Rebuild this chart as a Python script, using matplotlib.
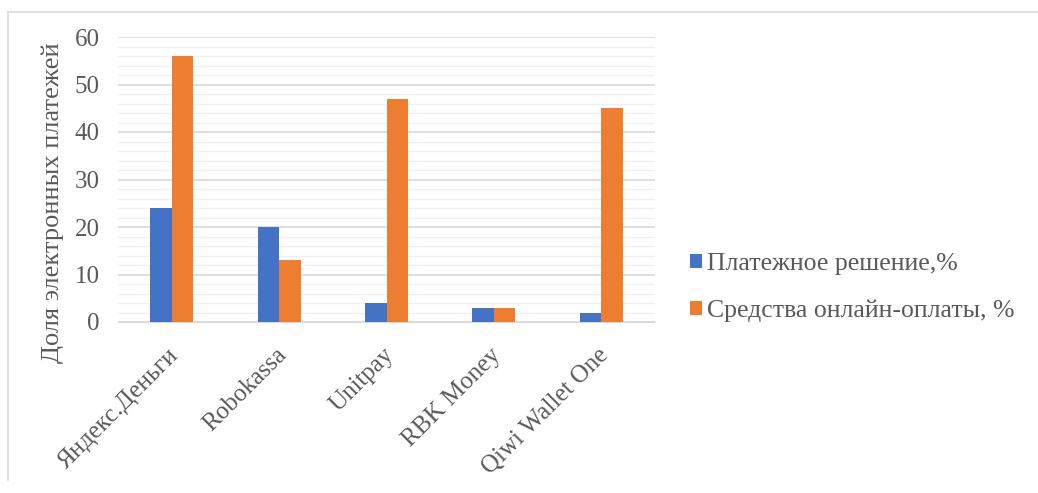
import numpy as np
import matplotlib.pyplot as plt
from matplotlib.lines import Line2D
from matplotlib.ticker import MultipleLocator
from matplotlib.transforms import ScaledTranslation

categories = ['Яндекс.Деньги', 'Robokassa', 'Unitpay', 'RBK Money', 'Qiwi Wallet One']
platezh = [24, 20, 4, 3, 2]
sredstva = [56, 13, 47, 3, 45]
labels = ['Платежное решение,%', 'Средства онлайн-оплаты, %']

plt.rcParams['font.family'] = ['Liberation Serif', 'DejaVu Serif']
grey = '#595959'

fig = plt.figure(figsize=(10.38, 4.93), dpi=100)
ax = fig.add_axes([118 / 1038, (493 - 322) / 493, (655 - 118) / 1038, (322 - 37) / 493])

x = np.arange(len(categories))
w = 0.2
ax.bar(x - w / 2, platezh, w, color='#4472C4', label=labels[0], zorder=3)
ax.bar(x + w / 2, sredstva, w, color='#ED7D31', label=labels[1], zorder=3)

ax.set_xlim(-0.5, len(categories) - 0.5)
ax.set_ylim(0, 60)
ax.yaxis.set_major_locator(MultipleLocator(10))
ax.yaxis.set_minor_locator(MultipleLocator(2))
ax.grid(axis='y', which='major', color='#d9d9d9', linewidth=1.2, zorder=0)
ax.grid(axis='y', which='minor', color='#f0f0f0', linewidth=1.0, zorder=0)
for s in ['top', 'right', 'left']:
    ax.spines[s].set_visible(False)
ax.spines['bottom'].set_color('#d9d9d9')
ax.tick_params(axis='both', which='both', length=0, colors=grey)
ax.tick_params(axis='y', labelsize=18, pad=13)
ax.set_xticks(x)
ax.set_xticklabels([])

# подписи категорий под углом 45
off = ScaledTranslation(-4 / 100, -22 / 100, fig.dpi_scale_trans)
for i, name in enumerate(categories):
    ax.text(i, 0, name, transform=ax.get_xaxis_transform() + off,
            rotation=45, ha='right', va='top', rotation_mode='anchor',
            fontsize=18, color=grey)

ax.set_ylabel('Доля электронных платежей', fontsize=19, color=grey)
ax.yaxis.set_label_coords(-0.1, 0.42)

ax.legend(loc='center left', bbox_to_anchor=(1.065, 0.12), frameon=False, fontsize=18.5,
          borderpad=0, borderaxespad=0,
          handlelength=0.47, handleheight=0.47, handletextpad=0.2, labelspacing=0.95,
          labelcolor=grey)

# рамка диаграммы
fig.add_artist(Line2D([8 / 1038, 1], [1 - 12 / 493, 1 - 12 / 493], color='#d9d9d9', lw=1.2))
fig.add_artist(Line2D([8 / 1038, 8 / 1038], [1 - 12 / 493, 1 - 480 / 493], color='#d9d9d9', lw=1.2))

fig.savefig('out.png', dpi=100)
